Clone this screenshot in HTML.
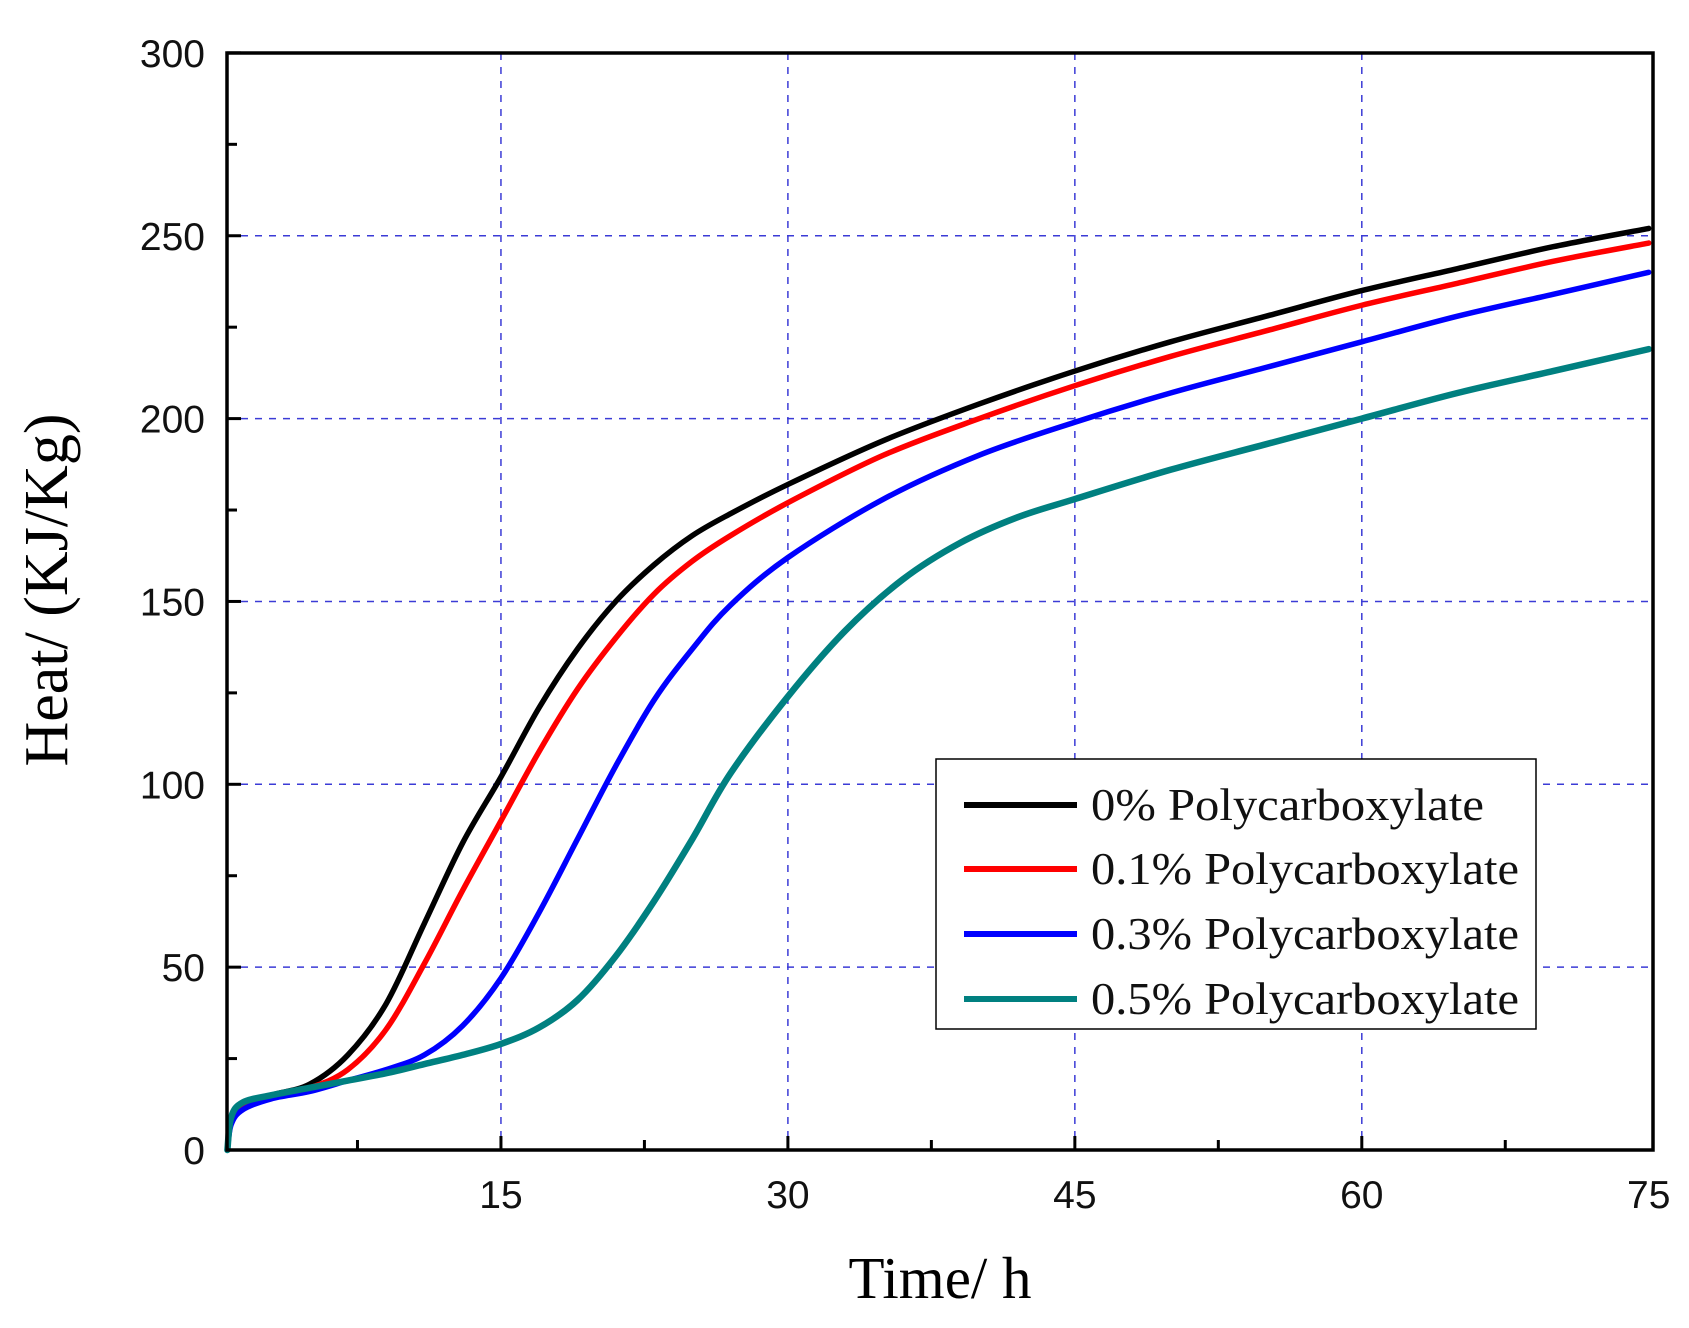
<!DOCTYPE html>
<html><head><meta charset="utf-8"><style>
html,body{margin:0;padding:0;background:#fff;}
svg{display:block;}
</style></head><body>
<svg id="s" width="1689" height="1328" xmlns="http://www.w3.org/2000/svg" font-family="Liberation Sans, sans-serif">
<g id="grid" stroke="#3b3bd6" stroke-width="1.5" stroke-dasharray="7,7" fill="none"></g>
<g id="curves" fill="none" stroke-linecap="round" stroke-linejoin="round"></g>
<rect x="227" y="53" width="1426" height="1097" fill="none" stroke="#000" stroke-width="3.5"/>
<g id="ticks" stroke="#000" stroke-width="3"></g>
<g id="labels" font-size="39" fill="#111"></g>
<text x="940" y="1298" font-family="Liberation Serif, serif" font-size="59" text-anchor="middle">Time/ h</text>
<text transform="translate(67,590) rotate(-90)" font-family="Liberation Serif, serif" font-size="62" text-anchor="middle">Heat/ (KJ/Kg)</text>
<rect x="936" y="759" width="600" height="270" fill="#fff" stroke="#000" stroke-width="1.5"/>
<g font-family="Liberation Serif, serif" font-size="45" fill="#111">
<line x1="964" y1="805" x2="1077" y2="805" stroke="#000" stroke-width="6"/>
<text x="1091" y="820" textLength="393" lengthAdjust="spacingAndGlyphs">0% Polycarboxylate</text>
<line x1="964" y1="869" x2="1077" y2="869" stroke="#f00" stroke-width="6"/>
<text x="1091" y="884" textLength="428" lengthAdjust="spacingAndGlyphs">0.1% Polycarboxylate</text>
<line x1="964" y1="934" x2="1077" y2="934" stroke="#00f" stroke-width="6"/>
<text x="1091" y="949" textLength="428" lengthAdjust="spacingAndGlyphs">0.3% Polycarboxylate</text>
<line x1="964" y1="999" x2="1077" y2="999" stroke="#008080" stroke-width="6"/>
<text x="1091" y="1014" textLength="428" lengthAdjust="spacingAndGlyphs">0.5% Polycarboxylate</text>
</g>
</svg>
<script>
var NS="http://www.w3.org/2000/svg";
function X(t){return 214+t*19.13;}
function Y(v){return 1150-v*3.657;}
function el(p,tag,a,txt){var e=document.createElementNS(NS,tag);for(var k in a)e.setAttribute(k,a[k]);if(txt!==undefined)e.textContent=txt;document.getElementById(p).appendChild(e);}
for(var v=50;v<300;v+=50)el("grid","line",{x1:227,x2:1653,y1:Y(v),y2:Y(v)});
for(var t=15;t<75;t+=15)el("grid","line",{x1:X(t),x2:X(t),y1:53,y2:1150});
for(var v=0;v<=300;v+=25){var L=(v%50==0)?14:10;el("ticks","line",{x1:227,x2:227+L,y1:Y(v),y2:Y(v)});if(v%50==0)el("labels","text",{x:205,y:Y(v)+14,"text-anchor":"end"},String(v));}
for(var t=7.5;t<75;t+=7.5){var L=(t%15==0)?14:10;el("ticks","line",{x1:X(t),x2:X(t),y1:1150,y2:1150-L});}
for(var t=15;t<=75;t+=15)el("labels","text",{x:X(t),y:1208,"text-anchor":"middle"},String(t));
var D={
"#000":[[0.7,0],[0.9,8],[1.5,12],[3,15],[5,18],[7,26],[9,40],[11,62],[13,84],[15,102],[17,121],[19,137],[21,150],[23,160],[25,168],[27,174],[30,182],[35,194],[40,204],[45,213],[50,221],[55,228],[60,235],[65,241],[70,247],[75,252]],
"#f00":[[0.7,0],[0.9,8],[1.5,12],[3,15],[5,17],[7,22],[9,33],[11,51],[13,71],[15,90],[17,109],[19,126],[21,140],[23,152],[25,161],[27,168],[30,177],[35,190],[40,200],[45,209],[50,217],[55,224],[60,231],[65,237],[70,243],[75,248]],
"#00f":[[0.7,0],[0.9,7],[1.5,11],[3,14],[5,16],[7,19],[9,22],[11,26],[13,34],[15,47],[17,65],[19,85],[21,105],[23,123],[25,137],[27,149],[30,162],[35,178],[40,190],[45,199],[50,207],[55,214],[60,221],[65,228],[70,234],[75,240]],
"#008080":[[0.7,0],[0.9,9],[1.5,13],[3,15],[5,17],[7,19],[9,21],[11,23.5],[13,26],[15,29],[17,33.5],[19,41],[21,53],[23,68],[25,85],[27,103],[30,124],[33,142],[36,156],[39,166],[42,173],[45,178],[50,186],[55,193],[60,200],[65,207],[70,213],[75,219]]};
for(var c in D){var p=D[c].map(function(a){return[X(a[0]),Y(a[1])];});var d="M"+p[0][0]+","+p[0][1];
for(var i=0;i<p.length-1;i++){var p0=p[Math.max(0,i-1)],p1=p[i],p2=p[i+1],p3=p[Math.min(p.length-1,i+2)];
d+=" C"+(p1[0]+(p2[0]-p0[0])/6)+","+(p1[1]+(p2[1]-p0[1])/6)+" "+(p2[0]-(p3[0]-p1[0])/6)+","+(p2[1]-(p3[1]-p1[1])/6)+" "+p2[0]+","+p2[1];}
el("curves","path",{d:d,stroke:c,"stroke-width":c=="#008080"?6.5:5.5});}
</script>
</body></html>
